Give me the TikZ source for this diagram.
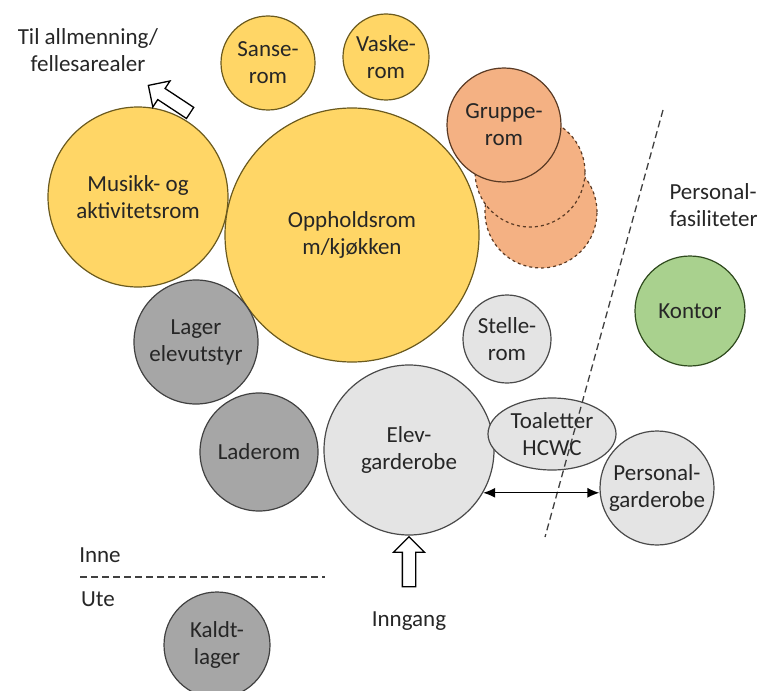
\documentclass[tikz,border=0pt]{standalone}
\usepackage{fontspec}
\setmainfont{Carlito}
\usetikzlibrary{shapes.geometric,shapes.arrows,arrows.meta}

\definecolor{gulfyll}{HTML}{FFD666}
\definecolor{gulkant}{HTML}{6B5A1E}
\definecolor{oransjefyll}{HTML}{F4B183}
\definecolor{oransjekant}{HTML}{5A3A24}
\definecolor{gråfyll}{HTML}{A6A6A6}
\definecolor{gråkant}{HTML}{404040}
\definecolor{lysfyll}{HTML}{E4E4E4}
\definecolor{lyskant}{HTML}{4A4A4A}
\definecolor{grønnfyll}{HTML}{A9D18E}
\definecolor{grønnkant}{HTML}{2F4A1E}
\definecolor{tekst}{HTML}{262626}

\tikzset{
  rom/.style={circle, draw, line width=1.2pt, align=center, inner sep=0pt,
    text=tekst, font=\fontsize{23}{27}\selectfont, minimum size=#1},
  gul/.style={rom=#1, fill=gulfyll, draw=gulkant},
  oransje/.style={rom=#1, fill=oransjefyll, draw=oransjekant},
  mork/.style={rom=#1, fill=gråfyll, draw=gråkant},
  lys/.style={rom=#1, fill=lysfyll, draw=lyskant},
  gronn/.style={rom=#1, fill=grønnfyll, draw=grønnkant},
  merkelapp/.style={align=center, text=tekst, font=\fontsize{23}{27}\selectfont},
  skille/.style={line width=1.3pt, gråkant, dash pattern=on 7pt off 4pt},
  blokkpil/.style={single arrow, draw=black, line width=1.3pt, fill=white,
    inner sep=6pt, minimum height=50pt, single arrow head extend=9pt}
}

\begin{document}
\begin{tikzpicture}[x=1pt, y=-1pt]
\useasboundingbox (0,0) rectangle (762,690);

% Grupperom, med to stiplede ekstra rom bak
\node[oransje=112, dashed] (gruppe3) at (541,212) {};
\node[oransje=110, dashed] (gruppe2) at (530,172) {};
\node[oransje=114] (gruppe) at (504,125) {Gruppe-\\rom};

% Gule rom
\node[gul=94] (sanse) at (268,63) {Sanse-\\rom};
\node[gul=86] (vaske) at (386,57) {Vaske-\\rom};
\node[gul=180] (musikk) at (138,197) {Musikk- og\\aktivitetsrom};
\node[gul=254] (opphold) at (352,235) {Oppholdsrom\\m/kjøkken};

% Grå rom
\node[mork=124] (lager) at (196,342) {Lager\\elevutstyr};
\node[mork=118] (lade) at (259,452) {Laderom};
\node[mork=106] (kald) at (217,645) {Kaldt-\\lager};

% Lysegrå rom
\node[lys=88] (stelle) at (507,339) {Stelle-\\rom};
\node[lys=170] (elev) at (409,450) {Elev-\\garderobe};
\node[ellipse, draw=lyskant, fill=lysfyll, line width=1.2pt, inner sep=0pt,
  minimum width=128, minimum height=72, align=center, text=tekst,
  font=\fontsize{23}{27}\selectfont] (toalett) at (552,434) {Toaletter\\HCWC};
\node[lys=114] (persgard) at (657,488) {Personal-\\garderobe};

% Personalrom
\node[gronn=110] (kontor) at (690,311) {Kontor};

% Skillelinjer
\coordinate (skilleA) at (663,110);
\coordinate (skilleB) at (545,537);
\draw[skille] (skilleA) -- (skilleB);
\coordinate (inneA) at (80,577);
\coordinate (inneB) at (325,577);
\draw[skille] (inneA) -- (inneB);

% Tekster
\node[merkelapp] (til) at (88,50) {Til allmenning/\\fellesarealer};
\node[merkelapp, align=left, anchor=west] (personal) at (666,205) {Personal-\\fasiliteter};
\node[merkelapp] (inne) at (100,555) {Inne};
\node[merkelapp] (ute) at (98,599) {Ute};
\node[merkelapp] (inngang) at (409,621) {Inngang};

% Piler
\node[blokkpil, rotate=90] (inngangpil) at (409,565) {};
\node[blokkpil, rotate=146.6] (tilpil) at (172,101) {};
\draw[{Latex[length=12pt,width=10pt]}-{Latex[length=12pt,width=10pt]}, line width=1.3pt]
  (elev.-30) -- (elev.-30 -| persgard.west);
\end{tikzpicture}
\end{document}
